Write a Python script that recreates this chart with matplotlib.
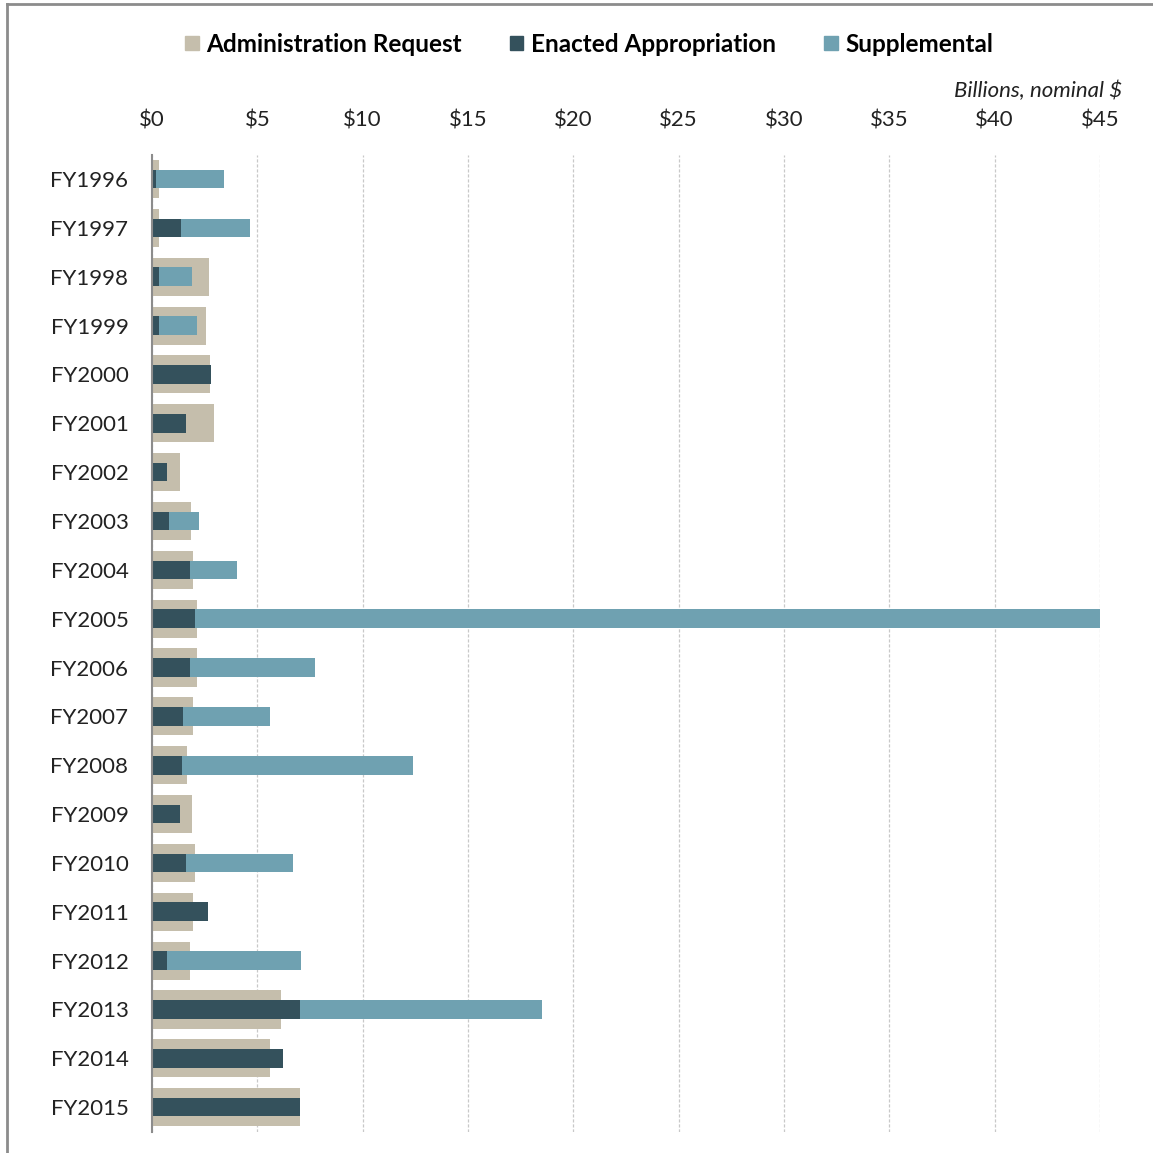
import numpy as np
import matplotlib.pyplot as plt
from matplotlib.lines import Line2D
from matplotlib.patches import Patch

plt.rcParams['font.family'] = ['Lato', 'DejaVu Sans']

years = ['FY1996', 'FY1997', 'FY1998', 'FY1999', 'FY2000', 'FY2001', 'FY2002',
         'FY2003', 'FY2004', 'FY2005', 'FY2006', 'FY2007', 'FY2008', 'FY2009',
         'FY2010', 'FY2011', 'FY2012', 'FY2013', 'FY2014', 'FY2015']

# billions, nominal $
admin_request = [0.31, 0.31, 2.69, 2.58, 2.75, 2.94, 1.34, 1.83, 1.96, 2.15,
                 2.15, 1.96, 1.66, 1.90, 2.03, 1.96, 1.79, 6.11, 5.62, 7.01]
enacted = [0.20, 1.36, 0.33, 0.33, 2.78, 1.61, 0.69, 0.82, 1.79, 2.04,
           1.79, 1.49, 1.43, 1.31, 1.61, 2.64, 0.69, 7.01, 6.22, 7.01]
supplemental = [3.23, 3.29, 1.58, 1.82, 0.0, 0.0, 0.0, 1.39, 2.23, 42.96,
                5.95, 4.13, 10.94, 0.0, 5.10, 0.0, 6.39, 11.50, 0.0, 0.0]

c_admin = '#C5BEAC'
c_enact = '#34515C'
c_supp = '#6FA1B1'

fig = plt.figure(figsize=(11.53, 11.53), dpi=100)
ax = fig.add_axes([152 / 1153, 1 - 1131.6 / 1153, 948 / 1153, 977 / 1153])

y = np.arange(len(years))
enacted = np.array(enacted)
ax.barh(y, admin_request, height=0.78, color=c_admin, zorder=2)
ax.barh(y, enacted, height=0.38, color=c_enact, zorder=3)
ax.barh(y, supplemental, height=0.38, left=enacted, color=c_supp, zorder=3)

ax.set_xlim(0, 45)
ax.set_ylim(len(years) - 0.5, -0.5)
ax.set_xticks(np.arange(0, 46, 5))
ax.set_xticklabels(['$' + str(v) for v in range(0, 46, 5)])
ax.set_yticks(y)
ax.set_yticklabels(years)
ax.xaxis.tick_top()
ax.tick_params(axis='x', length=0, pad=17, labelsize=16, labelcolor='#222222')
ax.tick_params(axis='y', length=0, pad=17, labelsize=16, labelcolor='#222222')
ax.grid(axis='x', color='#c8c8c8', linestyle=(0, (2.5, 1.5)), linewidth=0.9, zorder=0)
ax.set_axisbelow(True)
for s in ['top', 'right', 'bottom']:
    ax.spines[s].set_visible(False)
ax.spines['left'].set_color('#8c8c8c')
ax.spines['left'].set_linewidth(1.5)
ax.spines['left'].set_zorder(4)

handles = [Patch(color=c_admin, label='Administration Request'),
           Patch(color=c_enact, label='Enacted Appropriation'),
           Patch(color=c_supp, label='Supplemental')]
fig.legend(handles=handles, loc='center', bbox_to_anchor=(589 / 1153, 1 - 44 / 1153),
           ncol=3, frameon=False, handlelength=0.55, handleheight=0.55,
           handletextpad=0.3, columnspacing=2.0, prop={'weight': 'bold', 'size': 17.5})

fig.text(1122 / 1153, 1 - 91 / 1153, 'Billions, nominal $', ha='right', va='center',
         style='italic', fontsize=16, color='#222222')

# outer frame (top and left only)
fig.add_artist(Line2D([7 / 1153, 1], [1 - 4 / 1153, 1 - 4 / 1153], color='#8c8c8c', lw=2))
fig.add_artist(Line2D([7 / 1153, 7 / 1153], [0, 1 - 4 / 1153], color='#8c8c8c', lw=2))

fig.savefig('out.png', dpi=100)
